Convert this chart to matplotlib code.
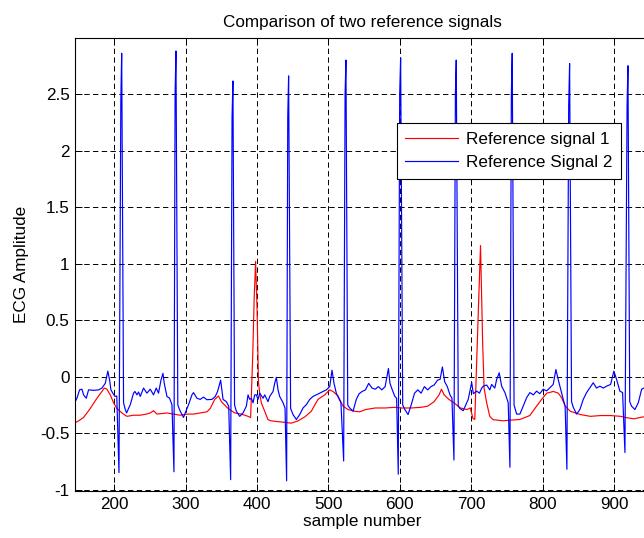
import matplotlib
matplotlib.use("Agg")
import matplotlib.pyplot as plt

# reference signal 1 (red)
sig1_x = [144.4, 150, 157, 166.4, 175.7, 182.7, 186, 189.7, 194.4, 199, 203.7, 210.7, 217.7,
          227, 236.4, 245, 250.4, 255, 259.8, 273.8, 283, 292.4, 301.8, 311, 320.4, 329.8,
          334.5, 340.7, 346, 350, 359.4, 368.7, 378, 387.4, 391, 394, 396, 398, 400, 402,
          404, 406, 410.7, 415.4, 420, 434, 448, 457.4, 466.8, 476, 480.8, 485.4, 494.8,
          501.8, 506.4, 513.4, 520.4, 527.5, 536.8, 543.8, 551.8, 565.6, 579.4, 593, 602.3,
          616, 629.8, 639, 648, 655, 658.3, 662, 668.8, 675.7, 684.9, 694, 698.6, 702.5,
          705, 709, 713, 716, 718, 721.6, 726, 730.7, 737.6, 744.3, 753.8, 768, 782, 791.5,
          798.6, 805.7, 815, 822, 827, 831.6, 838.7, 852.8, 867, 881, 895.3, 909.4, 918.9,
          928.3, 940, 948]
sig1_y = [-0.41, -0.39, -0.36, -0.28, -0.19, -0.13, -0.10, -0.11, -0.16, -0.23, -0.28, -0.32, -0.35,
          -0.34, -0.34, -0.33, -0.32, -0.30, -0.33, -0.32, -0.33, -0.34, -0.33, -0.33, -0.32, -0.31,
          -0.28, -0.20, -0.17, -0.22, -0.28, -0.32, -0.33, -0.35, -0.36, 0.2, 0.7, 1.02, 0.6, -0.05,
          -0.16, -0.23, -0.305, -0.38, -0.39, -0.40, -0.41, -0.39, -0.355, -0.305, -0.25, -0.20, -0.16,
          -0.116, -0.13, -0.17, -0.26, -0.29, -0.305, -0.31, -0.29, -0.276, -0.276, -0.27, -0.276,
          -0.276, -0.27, -0.26, -0.22, -0.16, -0.11, -0.16, -0.20, -0.23, -0.276, -0.29, -0.276, -0.37,
          -0.377, 0.4, 1.16, 0.3, -0.1, -0.23, -0.35, -0.38, -0.384, -0.39, -0.384, -0.378, -0.343, -0.26,
          -0.20, -0.145, -0.13, -0.145, -0.19, -0.26, -0.305, -0.334, -0.35, -0.343, -0.343, -0.35, -0.363,
          -0.372, -0.355, -0.36]

# reference signal 2 (blue)
sig2_x = [144.4, 147.7, 151.4, 154.7, 157, 160.8, 164, 171, 178, 182.7, 187.4, 191, 193.5, 195.3,
          198, 201, 203.5,
          206.6, 209.2, 210.4, 213,
          215.4, 217.3, 220, 222.4, 227, 229, 231.7, 234, 236.4, 241, 245.7, 250.4, 255, 258.8,
          262, 265.4, 268.2, 270, 273.8, 277.5, 280.8,
          283.6, 285.2, 286.4, 289,
          292.4, 297, 299.4, 304, 308.8, 311, 315.8, 320.4, 325, 329.8, 336.8, 341.5, 344.7, 349,
          352.4, 357, 360.3,
          363, 365, 366.2, 368.5,
          371, 375.7, 380.4, 385, 387.4, 389.7, 392, 394.4, 396.7, 399, 401.4, 403.7, 408.4, 410.7,
          415.4, 417.7, 422.4, 424.7, 427, 429.4, 431.7, 436.4, 439.2,
          441.4, 443, 444.2, 447,
          450.4, 455, 459.8, 464.4, 469, 473.8, 478.4, 483, 487.8, 492.4, 497.1, 501.8, 505, 507.8,
          511, 514.4, 517.5,
          521.3, 523.3, 524.5, 527,
          529.8, 534.5, 539, 543, 547.2, 551.8, 556.4, 561, 565.6, 570, 574.8, 579.4, 584, 586.2,
          589.4, 593, 595.5,
          597.8, 599.8, 601.1, 604,
          607, 611.5, 616, 620.6, 625.2, 629.8, 634.4, 639, 643.6, 648, 652.8, 656.4, 659.6, 662.8,
          666.5, 670.2, 673,
          675.8, 677.8, 679, 681.8,
          684, 688.8, 695.8, 700.6, 703, 707.6, 711.5, 714.7, 716.8, 721.6, 726, 728.6, 733, 735.6,
          739.2, 742.6, 747.2, 751.8,
          754.2, 756.2, 757.4, 760,
          763.6, 768.2, 772.8, 777.6, 782.2, 787, 791.6, 796, 800.8, 805.5, 810.2, 814.8, 818.6,
          821.8, 825.2, 828.9, 831.5,
          834, 836.5, 837.8, 840.5,
          842.9, 847.6, 852.2, 856.9, 861.6, 866.2, 870.9, 875.5, 880.2, 885, 889.6, 895.2, 899.8,
          903.6, 908.2, 912,
          915.3, 918.3, 919.5, 922,
          924.6, 929.3, 934, 938.7, 942, 948]
sig2_y = [-0.23, -0.19, -0.116, -0.11, -0.16, -0.19, -0.116, -0.12, -0.116, -0.10, -0.058, 0.05, -0.03, -0.116,
          -0.145, -0.174, -0.17,
          -0.847, 2.45, 2.86, -0.23,
          -0.29, -0.32, -0.28, -0.247, -0.145, -0.13, -0.16, -0.135, -0.174, -0.10, -0.145, -0.11, -0.16, -0.10,
          -0.145, -0.03, 0.03, -0.058, -0.174, -0.19, -0.247,
          -0.84, 2.5, 2.88, -0.25,
          -0.305, -0.36, -0.32, -0.247, -0.16, -0.14, -0.19, -0.20, -0.18, -0.203, -0.20, -0.174, -0.13, -0.03,
          -0.2, -0.22, -0.26,
          -0.91, 2.3, 2.615, -0.25,
          -0.305, -0.35, -0.32, -0.26, -0.16, -0.2, -0.19, -0.23, -0.16, -0.16, -0.2, -0.145, -0.19, -0.16,
          -0.22, -0.174, -0.13, -0.058, -0.005, -0.116, -0.174, -0.23, -0.276,
          -0.92, 2.3, 2.66, -0.28,
          -0.334, -0.378, -0.334, -0.276, -0.247, -0.2, -0.174, -0.16, -0.145, -0.13, -0.116, -0.087, 0.058, -0.058,
          -0.145, -0.19, -0.23,
          -0.745, 2.5, 2.80, -0.25,
          -0.276, -0.305, -0.2, -0.15, -0.13, -0.116, -0.058, -0.10, -0.11, -0.087, -0.116, -0.087, 0.073, -0.058,
          -0.116, -0.174, -0.19,
          -0.862, 2.5, 2.82, -0.25,
          -0.29, -0.334, -0.247, -0.145, -0.116, -0.145, -0.087, -0.116, -0.087, -0.073, -0.03, -0.023, 0.087, -0.044,
          -0.087, -0.16, -0.19,
          -0.736, 2.5, 2.80, -0.26,
          -0.28, -0.30, -0.20, -0.05, -0.15, -0.127, -0.145, -0.10, -0.083, -0.073, -0.116, -0.068, -0.10, -0.024,
          0.035, -0.083, -0.14, -0.23,
          -0.80, 2.5, 2.86, -0.25,
          -0.33, -0.33, -0.26, -0.185, -0.14, -0.16, -0.127, -0.15, -0.11, -0.125, -0.097, -0.068, 0.064,
          -0.024, -0.11, -0.2, -0.26,
          -0.818, 2.4, 2.77, -0.22,
          -0.27, -0.33, -0.29, -0.2, -0.14, -0.097, -0.053, -0.1, -0.083, -0.1, -0.083, -0.068, 0.05,
          -0.024, -0.127, -0.14,
          -0.67, 2.4, 2.75, -0.22,
          -0.26, -0.29, -0.23, -0.11, -0.10, -0.05]

x_ticks = [200, 300, 400, 500, 600, 700, 800, 900]
y_ticks = [-1, -0.5, 0, 0.5, 1, 1.5, 2, 2.5]
y_ticklabels = ['-1', '-0.5', '0', '0.5', '1', '1.5', '2', '2.5']

plt.rcParams['font.family'] = ['Liberation Sans', 'DejaVu Sans']
fs = 12.3

fig = plt.figure(figsize=(6.44, 5.38), dpi=100)
ax = fig.add_axes([75 / 644, 47 / 538, 574 / 644, 453 / 538])

ax.plot(sig1_x, sig1_y, color='#ff0000', lw=0.85, label='Reference signal 1')
ax.plot(sig2_x, sig2_y, color='#0000ff', lw=0.85, label='Reference Signal 2')

ax.set_xlim(145, 949)
ax.set_ylim(-1.01, 2.995)
ax.set_xticks(x_ticks)
ax.set_yticks(y_ticks)
ax.set_yticklabels(y_ticklabels)
ax.tick_params(direction='in', top=True, right=True, length=5, width=0.7,
               labelsize=fs, pad=4)
ax.grid(True, color='black', linestyle=(0, (5.5, 3.5)), linewidth=0.7)
for sp in ax.spines.values():
    sp.set_linewidth(0.8)

ax.set_title('Comparison of two reference signals', fontsize=fs, pad=8)
ax.set_xlabel('sample number', fontsize=fs, labelpad=2)
ax.set_ylabel('ECG Amplitude', fontsize=fs, labelpad=8)

leg = ax.legend(loc='upper left', bbox_to_anchor=(396.7 / 644, 1 - 123.3 / 538),
                bbox_transform=fig.transFigure, borderaxespad=0, fancybox=False,
                edgecolor='black', framealpha=1, fontsize=fs, handlelength=3.1,
                handletextpad=0.45, borderpad=0.5, labelspacing=0.5)
leg.get_frame().set_linewidth(0.8)

fig.savefig('out.png', dpi=100)
